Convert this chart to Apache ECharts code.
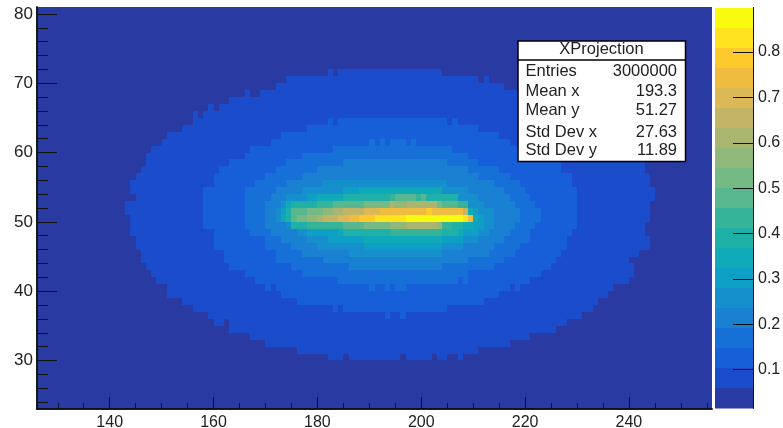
<!DOCTYPE html>
<html><head><meta charset="utf-8">
<style>html,body{margin:0;padding:0;background:#fff}#c{width:783px;height:428px}</style>
<script src="https://cdn.jsdelivr.net/npm/echarts@6/dist/echarts.min.js"></script>
</head><body><div id="c"></div>
<script>
const xMajor=[140,160,180,200,220,240];
const xMinor=[130,135,145,150,155,165,170,175,185,190,195,205,210,215,225,230,235,245,250,255];
const yMajor=[30,40,50,60,70,80];
const yMinor=[24,26,28,32,34,36,38,42,44,46,48,52,54,56,58,62,64,66,68,72,74,76,78];
const zTicks=[0.1,0.2,0.3,0.4,0.5,0.6,0.7,0.8];
const zEdges=[0.0143,0.0585,0.1027,0.1469,0.1911,0.2353,0.2795,0.3237,0.3679,0.4121,0.4563,0.5005,0.5447,0.5889,0.6331,0.6773,0.7215,0.7657,0.8099,0.8541,0.8983];
const bandColors=['#293aa3','#1a4ccb','#165fd8','#1670d8','#1a80d2','#1590cc','#0e9fc4','#0fa9b8','#1fb0a8','#35b49a','#58b78f','#75b985','#8fb87a','#aab570','#c4b566','#dcb856','#efbc40','#fdca2e','#fee31e','#f9fb0e'];
const statTitle='XProjection';
const statNames=['Entries','Mean x','Mean y','Std Dev x','Std Dev y'];
const statValues=['3000000','193.3','51.27','27.63','11.89'];

// each span is [y bin, first x bin, end x bin]
const band0=[[23,126,256],[24,126,256],[25,126,256],[26,126,256],[27,126,256],[28,126,256],[29,126,256],[30,126,256],[31,126,256],[32,126,256],[33,126,256],[34,126,256],[35,126,256],[36,126,256],[37,126,256],[38,126,256],[39,126,256],[40,126,256],[41,126,256],[42,126,256],[43,126,256],[44,126,256],[45,126,256],[46,126,256],[47,126,256],[48,126,256],[49,126,256],[50,126,256],[51,126,256],[52,126,256],[53,126,256],[54,126,256],[55,126,256],[56,126,256],[57,126,256],[58,126,256],[59,126,256],[60,126,256],[61,126,256],[62,126,256],[63,126,256],[64,126,256],[65,126,256],[66,126,256],[67,126,256],[68,126,256],[69,126,256],[70,126,256],[71,126,256],[72,126,256],[73,126,256],[74,126,256],[75,126,256],[76,126,256],[77,126,256],[78,126,256],[79,126,256],[80,126,256]];
const band1=[[30,182,185],[30,186,196],[30,197,202],[30,203,205],[30,207,208],[31,176,211],[32,170,217],[33,167,221],[34,163,226],[35,160,162],[35,163,228],[36,159,231],[37,156,233],[38,154,234],[39,151,236],[40,151,237],[41,149,240],[42,148,241],[43,147,241],[44,146,240],[45,146,242],[46,145,244],[47,145,244],[48,144,243],[49,144,243],[50,144,244],[51,143,244],[52,143,244],[53,145,245],[54,144,245],[55,144,244],[56,145,244],[57,146,243],[58,147,243],[59,147,242],[60,148,240],[61,150,238],[62,151,236],[63,154,233],[64,156,231],[65,156,157],[65,158,228],[66,159,160],[66,161,225],[67,163,222],[68,166,167],[68,169,219],[69,172,216],[70,174,211],[70,212,213],[71,182,183],[71,184,204]];
const band2=[[36,193,194],[36,196,197],[37,183,184],[37,185,205],[38,176,212],[39,173,215],[40,170,171],[40,172,217],[40,218,219],[41,168,221],[42,166,223],[43,163,225],[44,162,226],[45,162,227],[46,160,228],[47,160,228],[48,160,229],[49,158,230],[50,158,230],[51,158,230],[52,158,230],[53,158,230],[54,158,230],[55,160,229],[56,160,229],[57,161,227],[58,163,227],[59,166,225],[60,167,221],[61,171,217],[62,173,215],[63,178,211],[64,182,183],[64,184,205],[64,206,207]];
const band3=[[40,190,191],[40,193,194],[40,195,197],[41,184,207],[41,208,209],[42,177,209],[43,175,214],[44,172,216],[45,172,218],[46,170,219],[47,170,221],[48,167,221],[49,166,222],[50,166,223],[51,166,223],[52,166,222],[53,166,221],[54,166,220],[55,168,219],[56,170,217],[57,172,215],[58,174,211],[59,177,209],[60,183,206],[61,190,191],[61,192,193],[61,194,197],[61,198,199]];
const band4=[[43,186,204],[44,181,209],[45,177,213],[46,175,214],[47,173,216],[48,171,217],[49,170,218],[50,170,219],[51,170,219],[52,170,218],[53,171,217],[54,172,216],[55,174,214],[56,177,211],[57,180,209],[58,185,205]];
const band5=[[45,186,204],[46,180,208],[47,178,211],[48,176,213],[49,174,214],[50,172,214],[51,172,214],[52,173,212],[53,174,211],[54,177,209],[55,181,205]];
const band6=[[46,189,204],[47,182,208],[48,178,211],[49,175,212],[50,173,212],[51,173,211],[52,174,209],[53,178,206],[54,185,204]];
const band7=[[47,189,204],[48,184,208],[49,177,210],[50,173,211],[51,174,210],[52,174,209],[53,180,207],[54,188,204]];
const band8=[[48,185,207],[49,175,208],[50,174,210],[51,174,209],[52,175,209],[53,185,207]];
const band9=[[48,194,204],[49,178,206],[50,175,210],[51,175,209],[52,180,209],[53,194,200]];
const band10=[[49,185,204],[50,175,210],[51,175,209],[52,183,207],[53,195,199],[53,200,201]];
const band11=[[49,189,204],[50,176,210],[51,178,209],[52,189,204]];
const band12=[[49,194,204],[50,178,210],[51,181,209],[52,194,203]];
const band13=[[49,197,203],[50,180,210],[51,183,209],[52,194,195],[52,197,203]];
const band14=[[50,181,210],[51,185,209]];
const band15=[[50,184,210],[51,189,208]];
const band16=[[50,186,210],[51,192,208]];
const band17=[[50,188,209],[51,201,202]];
const band18=[[50,191,209]];
const band19=[[50,197,208]];
const bands=[band0,band1,band2,band3,band4,band5,band6,band7,band8,band9,band10,band11,band12,band13,band14,band15,band16,band17,band18,band19];

const cells=[];
bands.forEach((b,lev)=>b.forEach(s=>cells.push([s[0],s[1],s[2],lev])));
const barCells=bandColors.map((_,i)=>[zEdges[i],zEdges[i+1],i]);

const fontFamily='"Liberation Sans",Arial,sans-serif';
const ink='#222';
const S=16.5;
function xa(ticks,len,labels){return {type:'value',gridIndex:0,min:126,max:256,position:'bottom',z:5,
  axisLine:{show:true,onZero:false,lineStyle:{color:'#111',width:1.5}},
  axisTick:{show:true,inside:true,length:len,customValues:ticks,lineStyle:{color:'#111',width:1}},
  axisLabel:{show:labels,customValues:ticks,color:ink,fontFamily,fontSize:16,margin:6},
  splitLine:{show:false},minorTick:{show:false}};}
function ya(ticks,len,labels){return {type:'value',gridIndex:0,min:23,max:81,position:'left',z:5,
  axisLine:{show:true,onZero:false,lineStyle:{color:'#111',width:1.5}},
  axisTick:{show:true,inside:true,length:len,customValues:ticks,lineStyle:{color:'#111',width:1}},
  axisLabel:{show:labels,customValues:ticks,color:ink,fontFamily,fontSize:17,margin:4,padding:[3,0,0,0]},
  splitLine:{show:false},minorTick:{show:false}};}
function rect(a,b,fill){
  const x0=Math.round(Math.min(a[0],b[0])),x1=Math.round(Math.max(a[0],b[0]));
  const y0=Math.round(Math.min(a[1],b[1])),y1=Math.round(Math.max(a[1],b[1]));
  return {type:'rect',shape:{x:x0,y:y0,width:x1-x0,height:y1-y0},style:{fill}};
}
const graphicEls=[
  {type:'rect',shape:{x:518,y:41,width:167.5,height:120.5},style:{fill:'#fff',stroke:'#000',lineWidth:1.5},z:50},
  {type:'line',shape:{x1:518,y1:60,x2:685.5,y2:60},style:{stroke:'#000',lineWidth:1.5},z:51},
  {type:'text',x:601.5,y:49.5,style:{text:statTitle,fontFamily,fontSize:S,fill:ink,align:'center',verticalAlign:'middle'},z:51}
];
const statY=[71.5,91.5,110,132,150.5];
statNames.forEach((n,i)=>{
  graphicEls.push({type:'text',x:525.5,y:statY[i],style:{text:n,fontFamily,fontSize:S,fill:ink,align:'left',verticalAlign:'middle'},z:51});
  graphicEls.push({type:'text',x:677,y:statY[i],style:{text:statValues[i],fontFamily,fontSize:S,fill:ink,align:'right',verticalAlign:'middle'},z:51});
});
const chart=echarts.init(document.getElementById('c'),null,{renderer:'canvas'});
chart.setOption({
  animation:false,backgroundColor:'#fff',tooltip:{show:false},
  grid:[{left:37,top:7,width:675,height:402,show:true,borderWidth:0,backgroundColor:'#293aa3',outerBoundsMode:'none'},
        {left:715,top:7.5,width:38,height:401,show:false,outerBoundsMode:'none'}],
  xAxis:[xa(xMajor,12,true),xa(xMinor,6,false),
    {type:'value',gridIndex:1,min:0,max:1,show:false}],
  yAxis:[ya(yMajor,20,true),ya(yMinor,11,false),
    {type:'value',gridIndex:1,min:0.0143,max:0.8983,position:'right',z:5,
     axisLine:{show:true,onZero:false,lineStyle:{color:'#111',width:1}},
     axisTick:{show:true,inside:true,length:20,customValues:zTicks,lineStyle:{color:'#111',width:1}},
     axisLabel:{show:true,customValues:zTicks,color:ink,fontFamily,fontSize:16,margin:5,padding:[3,0,0,0],formatter:v=>v.toFixed(1)},
     splitLine:{show:false}}],
  graphic:{elements:graphicEls},
  series:[
    {type:'custom',xAxisIndex:0,yAxisIndex:0,coordinateSystem:'cartesian2d',clip:true,silent:true,data:cells,
     encode:{x:[1,2],y:0},
     renderItem:(p,api)=>rect(api.coord([api.value(1),api.value(0)+1]),api.coord([api.value(2),api.value(0)]),bandColors[api.value(3)]),z:1},
    {type:'custom',xAxisIndex:2,yAxisIndex:2,coordinateSystem:'cartesian2d',clip:true,silent:true,data:barCells,
     encode:{y:[0,1]},
     renderItem:(p,api)=>rect(api.coord([0,api.value(1)]),api.coord([1,api.value(0)]),bandColors[api.value(2)]),z:1}
  ]
});
</script></body></html>
